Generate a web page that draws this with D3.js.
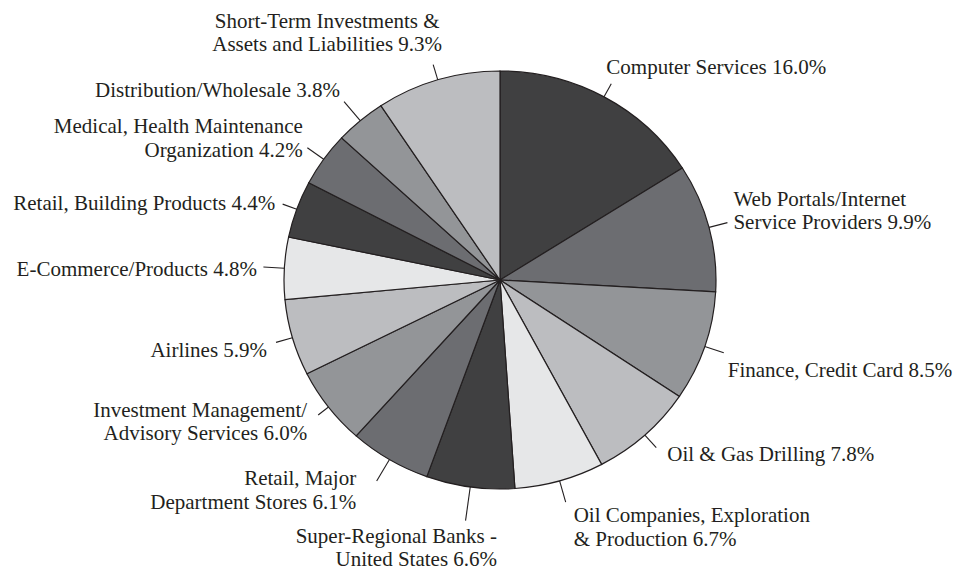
<!DOCTYPE html>
<html>
<head>
<meta charset="utf-8">
<script src="https://cdn.jsdelivr.net/npm/d3@7"></script>
<style>
    body { margin: 0; background: #fff; }
    .chart text { font-family: "Liberation Serif", "Times New Roman", serif; font-size: 21px; fill: #231f20; }
</style>
</head>
<body>
<svg class="chart"></svg>
<script>
// industry labels, clockwise from 12 o'clock (split where the printed label wraps)
var labels = [
    ["Computer Services 16.0%"],
    ["Web Portals/Internet", "Service Providers 9.9%"],
    ["Finance, Credit Card 8.5%"],
    ["Oil & Gas Drilling 7.8%"],
    ["Oil Companies, Exploration", "& Production 6.7%"],
    ["Super-Regional Banks -", "United States 6.6%"],
    ["Retail, Major", "Department Stores 6.1%"],
    ["Investment Management/", "Advisory Services 6.0%"],
    ["Airlines 5.9%"],
    ["E-Commerce/Products 4.8%"],
    ["Retail, Building Products 4.4%"],
    ["Medical, Health Maintenance", "Organization 4.2%"],
    ["Distribution/Wholesale 3.8%"],
    ["Short-Term Investments &", "Assets and Liabilities 9.3%"]
];

// percent of portfolio
var shares = [16.0, 9.9, 8.5, 7.8, 6.7, 6.6, 6.1, 6.0, 5.9, 4.8, 4.4, 4.2, 3.8, 9.3];

var greys = ["#404041", "#6c6d71", "#939598", "#bcbdc0", "#e6e7e8"];

// label placement relative to the end of each leader line
// [leader length, text-anchor, dx, dy]
var labelLayout = [
    [15, "start", -5, -10],
    [19, "start", 6, -17],
    [20, "start", 4, 24],
    [17, "start", 11, 13],
    [22, "start", 8, 20],
    [34, "end", 31.5, 22],
    [25, "end", -20.5, 4],
    [13, "end", -11, 2],
    [17, "end", -9, 14.5],
    [21, "end", -6.5, 9],
    [15, "end", -7.5, 6],
    [20, "end", -4.5, -14.7],
    [25, "end", -4, -4.5],
    [16, "middle", -106, -36.6]
];

var width = 956;
var height = 571;
var cx = 500;
var cy = 280;
var rx = 216; // pie is printed a little squashed
var ry = 209;
var lineH = 23.5;

var chart = d3.select(".chart")
    .attr("width", width)
    .attr("height", height);

var pie = d3.pie()
    .sort(null)
    .value(function(d) { return d; });

var arc = d3.arc()
    .innerRadius(0)
    .outerRadius(rx);

var slices = pie(shares);

var g = chart.append("g")
    .attr("transform", "translate(" + cx + "," + cy + ") scale(1," + (ry / rx) + ")");

g.selectAll("path.slice")
    .data(slices)
    .enter()
    .append("path")
    .attr("class", "slice")
    .attr("d", arc)
    .attr("fill", function(d, i) { return greys[i % greys.length]; })
    .attr("stroke", "#231f20")
    .attr("stroke-width", 1.2)
    .attr("vector-effect", "non-scaling-stroke");

// leader lines: radial ticks out from the middle of each slice's rim
function rimPoint(d) {
    var a = (d.startAngle + d.endAngle) / 2;
    return [cx + rx * Math.sin(a), cy - ry * Math.cos(a), a];
}

function leaderEnd(d, i) {
    var p = rimPoint(d);
    var len = labelLayout[i][0];
    return [p[0] + len * Math.sin(p[2]), p[1] - len * Math.cos(p[2])];
}

chart.selectAll("line.leader")
    .data(slices)
    .enter()
    .append("line")
    .attr("class", "leader")
    .attr("x1", function(d) { return rimPoint(d)[0]; })
    .attr("y1", function(d) { return rimPoint(d)[1]; })
    .attr("x2", function(d, i) { return leaderEnd(d, i)[0]; })
    .attr("y2", function(d, i) { return leaderEnd(d, i)[1]; })
    .attr("stroke", "#231f20")
    .attr("stroke-width", 1.1);

var txt = chart.selectAll("text.label")
    .data(slices)
    .enter()
    .append("text")
    .attr("class", "label")
    .attr("text-anchor", function(d, i) { return labelLayout[i][1]; })
    .attr("transform", function(d, i) {
        var e = leaderEnd(d, i);
        return "translate(" + (e[0] + labelLayout[i][2]) + "," + (e[1] + labelLayout[i][3]) + ")";
    });

txt.selectAll("tspan")
    .data(function(d, i) { return labels[i]; })
    .enter()
    .append("tspan")
    .attr("x", 0)
    .attr("y", function(d, j) { return j * lineH; })
    .text(function(d) { return d; });
</script>
</body>
</html>
